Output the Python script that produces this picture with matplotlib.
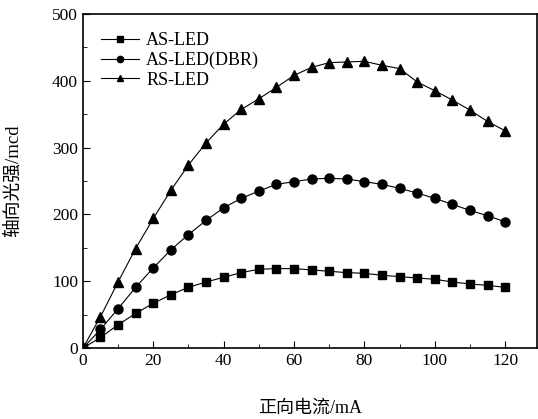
import matplotlib
matplotlib.use("Agg")
import matplotlib.pyplot as plt
from matplotlib.ticker import MultipleLocator

plt.rcParams['font.family'] = ['Liberation Serif', 'Noto Sans CJK SC']
plt.rcParams['mathtext.fontset'] = 'stix'

current = [0, 5, 10, 15, 20, 25, 30, 35, 40, 45, 50, 55, 60, 65, 70, 75, 80,
           85, 90, 95, 100, 105, 110, 115, 120]
as_led = [0, 16, 35, 52, 67, 80, 91, 99, 106, 113, 118, 119, 119, 117, 115,
          113, 112, 109, 107, 105, 103, 99, 96, 94, 91]
as_led_dbr = [0, 28, 59, 91, 120, 147, 170, 191, 210, 224, 235, 245, 249, 253,
              254, 253, 249, 245, 239, 232, 224, 215, 206, 198, 189]
rs_led = [0, 47, 99, 149, 194, 236, 274, 307, 335, 357, 373, 390, 408, 420,
          427, 428, 429, 423, 418, 398, 385, 371, 356, 339, 325]

fig = plt.figure(figsize=(5.38, 4.19), dpi=100)
ax = fig.add_axes([0.154, 0.169, 0.844, 0.798])

ax.plot(current, as_led, color="black", lw=0.8, marker="s", ms=6, label="AS-LED")
ax.plot(current, as_led_dbr, color="black", lw=0.8, marker="o", ms=6.5, label="AS-LED(DBR)")
ax.plot(current, rs_led, color="black", lw=0.8, marker="^", ms=7, label="RS-LED")

ax.set_xlim(0, 129)
ax.set_ylim(0, 500)
ax.xaxis.set_major_locator(MultipleLocator(20))
ax.xaxis.set_minor_locator(MultipleLocator(10))
ax.yaxis.set_major_locator(MultipleLocator(100))
ax.yaxis.set_minor_locator(MultipleLocator(50))
ax.tick_params(direction="in", which="both", labelsize=12.5)
ax.tick_params(which="major", length=5)
ax.tick_params(which="minor", length=3)
for s in ax.spines.values():
    s.set_linewidth(1.2)

ax.set_xlabel("正向电流/mA", fontsize=13, labelpad=22)
ax.set_ylabel("轴向光强/mcd", fontsize=13.5, labelpad=22)

leg = ax.legend(loc="upper left", frameon=False, fontsize=13, handlelength=2.1,
                handletextpad=0.4, labelspacing=0.15, borderaxespad=0.6,
                markerscale=0.7)

fig.savefig("out.png", dpi=100)
